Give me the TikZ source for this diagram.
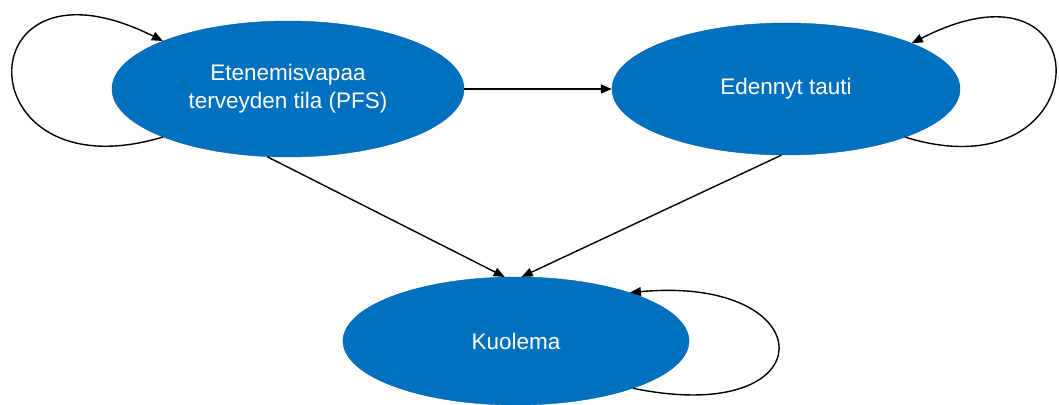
\documentclass[tikz,border=0pt]{standalone}
\usepackage{fontspec}
\setmainfont{Liberation Sans}
\usetikzlibrary{arrows.meta,shapes.geometric}
\definecolor{stateblue}{HTML}{0070C0}
\tikzset{
  state/.style={ellipse, fill=stateblue, draw=stateblue!85!black, line width=0.4pt, inner sep=0pt,
    text=white, align=center, font=\fontsize{22.5}{28}\selectfont},
  conn/.style={line width=1.4pt, -{Stealth[length=11pt,width=9pt,inset=0pt]}}
}
\begin{document}
\begin{tikzpicture}[x=1pt,y=1pt]
\useasboundingbox (0,0) rectangle (1059,-404);
\node[state, minimum width=352, minimum height=136] (pfs) at (288,-89) {Etenemisvapaa\\terveyden tila (PFS)};
\node[state, minimum width=348, minimum height=132] (ed) at (786,-89) {Edennyt tauti};
\node[state, minimum width=346, minimum height=128] (ku) at (516,-341) {Kuolema};
\draw[conn] (pfs.east) -- (ed.west);
\draw[conn] (pfs.253) -- (ku.100);
\draw[conn] (ed.266) -- (ku.85);
\draw[conn] (pfs.201) .. controls +(-200,-60) and +(-200,100) .. (pfs.159);
\draw[conn] (ed.338) .. controls +(195,-60) and +(195,100) .. (ed.20.5);
\draw[conn] (ku.338) .. controls +(195,-40) and +(195,18) .. (ku.23);
\end{tikzpicture}
\end{document}
